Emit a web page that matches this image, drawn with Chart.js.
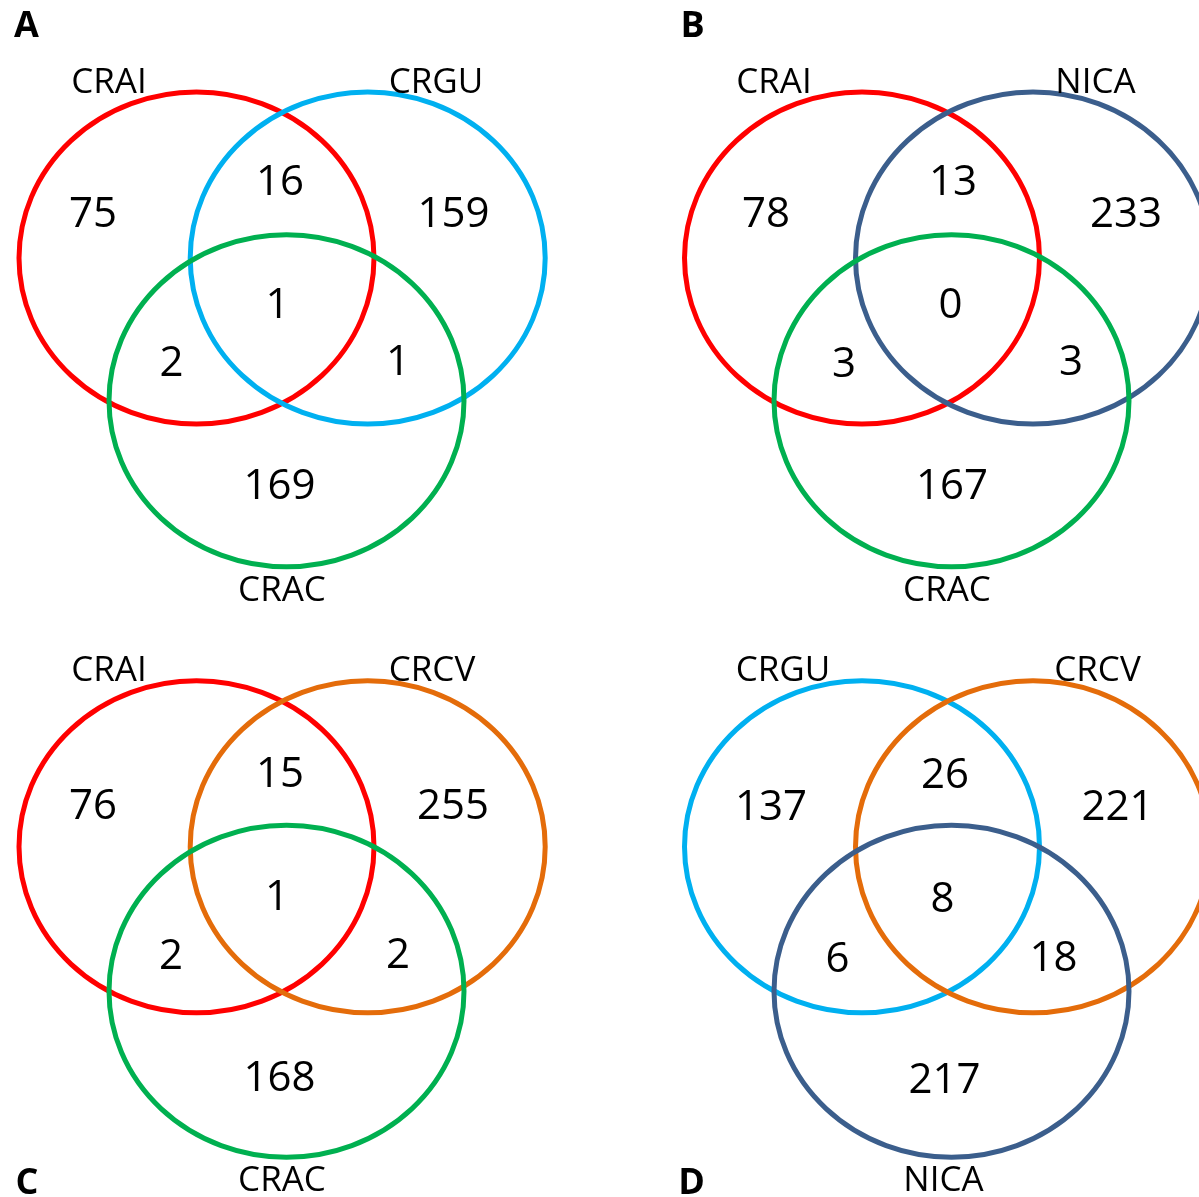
<!DOCTYPE html>
<html>
<head>
<meta charset="utf-8">
<title>Venn diagrams</title>
<script src="https://cdn.jsdelivr.net/npm/chart.js@4/dist/chart.umd.min.js"></script>
<style>
  html, body { margin: 0; padding: 0; background: #ffffff; }
  #venn { display: block; }
</style>
</head>
<body>
<canvas id="venn" width="1199" height="1197"></canvas>
<script>
// ---- Data: set names and region counts for each panel ----
const panelLetters = ['A', 'B', 'C', 'D'];

const setsA = ['CRAI', 'CRGU', 'CRAC'];
const setsB = ['CRAI', 'NICA', 'CRAC'];
const setsC = ['CRAI', 'CRCV', 'CRAC'];
const setsD = ['CRGU', 'CRCV', 'NICA'];

// region order: only 1st, only 2nd, 1st∩2nd, 1st∩3rd, 2nd∩3rd, all three, only 3rd
const countsA = [75, 159, 16, 2, 1, 1, 169];
const countsB = [78, 233, 13, 3, 3, 0, 167];
const countsC = [76, 255, 15, 2, 2, 1, 168];
const countsD = [137, 221, 26, 6, 18, 8, 217];

// ---- Styles ----
const setColors = {
  CRAI: '#FF0000',
  CRGU: '#00B0F0',
  CRAC: '#00B050',
  NICA: '#3B5E8C',
  CRCV: '#E46C0A'
};
const FONT = '"Open Sans", "Noto Sans", sans-serif';
const nameFont = { size: 35, weight: 'normal' };
const countFont = { size: 42, weight: 'normal' };
const letterFont = { size: 36, weight: 'bold' };
const strokeWidth = 5;

// ---- Layout (page coordinates in the scale units) ----
const ellipseRadius = { rx: 177.5, ry: 166 };
const layout = [
  { // A
    letter: [26.5, 24],
    circles: [[196.5, 258], [367.7, 258], [286.5, 400.7]],
    names: [[109, 80.5], [436, 80.5], [282, 589]],
    counts: [[93, 212], [453.5, 212], [280, 180], [171.5, 361.5], [398, 360], [277.5, 303.5], [279.5, 484]]
  },
  { // B
    letter: [692.5, 24],
    circles: [[862, 258], [1033, 258], [951.5, 400.7]],
    names: [[774, 80.5], [1095.5, 80.5], [947, 589]],
    counts: [[766, 212], [1126, 212], [953, 180], [844, 362], [1071, 360], [950.5, 303], [952, 484]]
  },
  { // C
    letter: [27, 1181],
    circles: [[196.5, 846.7], [367.7, 846.7], [286.5, 991.2]],
    names: [[109, 669], [432, 669], [282, 1179]],
    counts: [[93, 804.5], [453, 804], [280, 772], [171, 954], [398, 953], [277, 895.5], [279.5, 1076.5]]
  },
  { // D
    letter: [691.5, 1181],
    circles: [[862, 846.7], [1033, 846.7], [951.5, 991.2]],
    names: [[783, 669], [1097.5, 669], [943.5, 1179]],
    counts: [[771, 805.5], [1117.5, 805], [945, 773], [837.5, 957.5], [1053.5, 956], [942.5, 897.5], [944.5, 1078.5]]
  }
];

const panelSets = [setsA, setsB, setsC, setsD];
const panelCounts = [countsA, countsB, countsC, countsD];

const toPoints = arr => arr.map(([x, y]) => ({ x, y }));

// ---- Datasets ----
const datasets = [];
panelSets.forEach((sets, p) => {
  const L = layout[p];
  datasets.push({
    label: panelLetters[p] + ' sets',
    kind: 'ellipse',
    colors: sets.map(s => setColors[s]),
    data: toPoints(L.circles),
    pointRadius: 0, pointHoverRadius: 0
  });
});
panelSets.forEach((sets, p) => {
  const L = layout[p];
  datasets.push({
    label: panelLetters[p] + ' names',
    kind: 'text', texts: sets, font: nameFont,
    data: toPoints(L.names),
    pointRadius: 0, pointHoverRadius: 0
  });
  datasets.push({
    label: panelLetters[p] + ' counts',
    kind: 'text', texts: panelCounts[p].map(String), font: countFont,
    data: toPoints(L.counts),
    pointRadius: 0, pointHoverRadius: 0
  });
});
datasets.push({
  label: 'panel letters',
  kind: 'text', texts: panelLetters, font: letterFont,
  data: toPoints(layout.map(L => L.letter)),
  pointRadius: 0, pointHoverRadius: 0
});

// ---- Plugin: draws the ellipses and the text at the scaled point positions ----
const vennPlugin = {
  id: 'vennDraw',
  afterDatasetsDraw(chart) {
    const { ctx, scales: { x, y } } = chart;
    const rxPx = Math.abs(x.getPixelForValue(ellipseRadius.rx) - x.getPixelForValue(0));
    const ryPx = Math.abs(y.getPixelForValue(ellipseRadius.ry) - y.getPixelForValue(0));
    ctx.save();
    // ellipses first, in set order
    chart.data.datasets.forEach((ds, i) => {
      if (ds.kind !== 'ellipse') return;
      chart.getDatasetMeta(i).data.forEach((pt, j) => {
        ctx.beginPath();
        ctx.ellipse(pt.x, pt.y, rxPx, ryPx, 0, 0, Math.PI * 2);
        ctx.strokeStyle = ds.colors[j];
        ctx.lineWidth = strokeWidth;
        ctx.stroke();
      });
    });
    // text on top
    ctx.fillStyle = '#000000';
    ctx.textAlign = 'center';
    ctx.textBaseline = 'alphabetic';
    chart.data.datasets.forEach((ds, i) => {
      if (ds.kind !== 'text') return;
      const f = ds.font;
      ctx.font = `${f.weight} ${f.size}px ${FONT}`;
      const capHalf = f.size * 0.714 / 2;
      chart.getDatasetMeta(i).data.forEach((pt, j) => {
        ctx.fillText(ds.texts[j], pt.x, pt.y + capHalf);
      });
    });
    ctx.restore();
  }
};

new Chart(document.getElementById('venn'), {
  type: 'scatter',
  data: { datasets },
  options: {
    responsive: false,
    animation: false,
    events: [],
    layout: { padding: 0 },
    scales: {
      x: { type: 'linear', min: 0, max: 1199, display: false },
      y: { type: 'linear', min: 0, max: 1197, reverse: true, display: false }
    },
    plugins: {
      legend: { display: false },
      tooltip: { enabled: false },
      title: { display: false }
    }
  },
  plugins: [vennPlugin]
});
</script>
</body>
</html>
